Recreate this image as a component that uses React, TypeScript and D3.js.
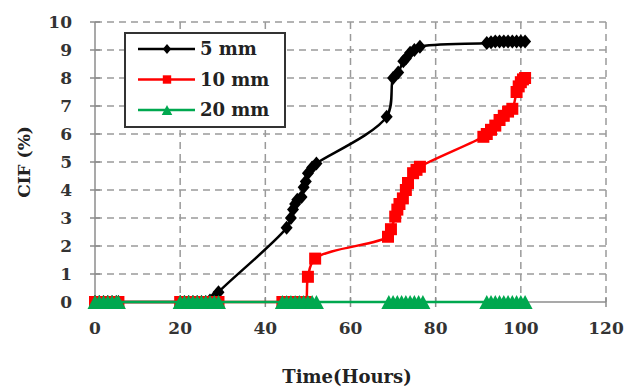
import React from "react";
import * as d3 from "d3";

// ---------- data ----------
const xTicks = [0, 20, 40, 60, 80, 100, 120];
const yTicks = [0, 1, 2, 3, 4, 5, 6, 7, 8, 9, 10];

const hours5 = [
  0, 1, 2, 3, 4, 5, 5.5,
  20, 21, 22, 23, 24, 25, 26, 27, 28, 29,
  45, 46, 46.5, 47, 47.5, 48.5, 49, 49.5, 50, 51, 52,
  68.5, 70, 71.2, 72.4, 73, 74, 75, 76.3,
  92, 93, 94, 95, 96, 97, 98, 99, 100, 101,
];
const cif5 = [
  0, 0, 0, 0, 0, 0, 0,
  0, 0, 0, 0, 0, 0, 0, 0.05, 0.15, 0.35,
  2.65, 3.0, 3.3, 3.5, 3.65, 3.75, 4.1, 4.3, 4.6, 4.8, 4.95,
  6.62, 8.0, 8.2, 8.6, 8.7, 8.9, 9.0, 9.12,
  9.25, 9.28, 9.3, 9.3, 9.3, 9.3, 9.3, 9.3, 9.3, 9.3,
];

const hours10 = [
  0, 1, 2, 3, 4, 5, 5.5,
  20, 21, 22, 23, 24, 25, 26, 27, 28, 29,
  44, 45, 46, 47, 48, 49, 49.5,
  50, 51.7,
  68.8, 69.5, 70.5, 71, 71.5, 72.3, 73, 73.5, 74.7, 75.5, 76.3,
  91.2, 92, 93, 94, 95, 96, 97, 98, 99, 99.5, 100, 100.5, 101,
];
const cif10 = [
  0, 0, 0, 0, 0, 0, 0,
  0, 0, 0, 0, 0, 0, 0, 0, 0, 0,
  0, 0, 0, 0, 0, 0, 0,
  0.9, 1.55,
  2.33, 2.6, 3.05, 3.3, 3.5, 3.7, 4.0, 4.25, 4.6, 4.72, 4.83,
  5.9, 6.0, 6.15, 6.3, 6.5, 6.65, 6.8, 6.9, 7.5, 7.7, 7.85, 7.95, 8.0,
];

const hours20 = [
  0, 1, 2, 3, 4, 5, 5.5,
  20, 21, 22, 23, 24, 25, 26, 27, 28, 29,
  44, 45, 46, 47, 48, 49, 50, 51, 52,
  69, 70, 71, 72, 73, 74, 75, 76, 77,
  92, 93, 94, 95, 96, 97, 98, 99, 100, 101,
];
const cif20 = [
  0, 0, 0, 0, 0, 0, 0,
  0, 0, 0, 0, 0, 0, 0, 0, 0, 0,
  0, 0, 0, 0, 0, 0, 0, 0, 0,
  0, 0, 0, 0, 0, 0, 0, 0, 0,
  0, 0, 0, 0, 0, 0, 0, 0, 0, 0,
];

const seriesNames = ["5 mm", "10 mm", "20 mm"];
const seriesColors = ["#000000", "#ff0000", "#00a84f"];

type Pt = { h: number; v: number };
const zip = (h: number[], v: number[]): Pt[] => h.map((x, i) => ({ h: x, v: v[i] }));

const series = [
  { name: seriesNames[0], color: seriesColors[0], pts: zip(hours5, cif5), marker: "diamond" },
  { name: seriesNames[1], color: seriesColors[1], pts: zip(hours10, cif10), marker: "square" },
  { name: seriesNames[2], color: seriesColors[2], pts: zip(hours20, cif20), marker: "triangle" },
];

// ---------- layout ----------
const W = 627;
const H = 387;
const L = 95, R = 606, T = 22, B = 302;
const FONT = "'DejaVu Serif', 'Liberation Serif', serif";

const x = d3.scaleLinear().domain([0, 120]).range([L, R]);
const y = d3.scaleLinear().domain([0, 10]).range([B, T]);

const markerPath = (m: string, k = 1) => {
  const p = d3.path();
  if (m === "diamond") {
    p.moveTo(0, -7 * k); p.lineTo(6 * k, 0); p.lineTo(0, 7 * k); p.lineTo(-6 * k, 0); p.closePath();
  } else if (m === "square") {
    p.rect(-6 * k, -6 * k, 12 * k, 12 * k);
  } else {
    p.moveTo(0, -7 * k); p.lineTo(7.5 * k, 7 * k); p.lineTo(-7.5 * k, 7 * k); p.closePath();
  }
  return p.toString();
};

const line = d3
  .line<Pt>()
  .x((d) => x(d.h))
  .y((d) => y(d.v))
  .curve(d3.curveCatmullRom.alpha(0.5));

export default function App() {
  const gridColor = "#9a9a9a";
  return (
    <svg
      width={W}
      height={H}
      style={{ position: "absolute", left: 0, top: 0, background: "#fff" }}
    >
      <rect x={0} y={0} width={W} height={H} fill="#fff" />
      {/* grid */}
      {yTicks.filter((t) => t > 0).map((t) => (
        <line key={"gy" + t} x1={L} x2={R} y1={y(t)} y2={y(t)} stroke={gridColor} strokeWidth={1.5} strokeDasharray="7,5" />
      ))}
      {xTicks.filter((t) => t > 0).map((t) => (
        <line key={"gx" + t} x1={x(t)} x2={x(t)} y1={T} y2={B} stroke={gridColor} strokeWidth={1.5} strokeDasharray="7,5" />
      ))}
      {/* axes */}
      <line x1={L} x2={L} y1={T} y2={B} stroke="#8c8c8c" strokeWidth={1.5} />
      <line x1={L} x2={R} y1={B} y2={B} stroke="#8c8c8c" strokeWidth={1.5} />
      {yTicks.map((t) => (
        <line key={"ty" + t} x1={L - 5} x2={L + 5} y1={y(t)} y2={y(t)} stroke="#8c8c8c" strokeWidth={1.5} />
      ))}
      {xTicks.map((t) => (
        <line key={"tx" + t} x1={x(t)} x2={x(t)} y1={B - 5} y2={B + 5} stroke="#8c8c8c" strokeWidth={1.5} />
      ))}
      {/* tick labels */}
      {yTicks.map((t) => (
        <text key={"ly" + t} x={L - 23} y={y(t)} dy="0.36em" textAnchor="end" fontFamily={FONT} fontWeight="bold" fontSize={17} fill="#333">
          {t}
        </text>
      ))}
      {xTicks.map((t) => (
        <text key={"lx" + t} x={x(t)} y={334} textAnchor="middle" fontFamily={FONT} fontWeight="bold" fontSize={17} fill="#333">
          {t}
        </text>
      ))}
      {/* axis titles */}
      <text x={347} y={383} textAnchor="middle" fontFamily={FONT} fontWeight="bold" fontSize={18} fill="#222">
        Time(Hours)
      </text>
      <text transform={`translate(30,162) rotate(-90)`} textAnchor="middle" fontFamily={FONT} fontWeight="bold" fontSize={17} fill="#222">
        CIF (%)
      </text>
      {/* series */}
      {series.map((s) => (
        <g key={s.name}>
          <path d={line(s.pts)!} fill="none" stroke={s.color} strokeWidth={2.5} />
          {s.pts.map((p, i) => (
            <path key={i} d={markerPath(s.marker)} transform={`translate(${x(p.h)},${y(p.v)})`} fill={s.color} />
          ))}
        </g>
      ))}
      {/* legend */}
      <rect x={125} y={33} width={160} height={94} fill="#fff" stroke="#333" strokeWidth={2} />
      {series.map((s, i) => {
        const ly = 49 + i * 30.5;
        return (
          <g key={"lg" + s.name}>
            <line x1={138} x2={195} y1={ly} y2={ly} stroke={s.color} strokeWidth={2.5} />
            <path d={markerPath(s.marker, 0.7)} transform={`translate(167,${ly})`} fill={s.color} />
            <text x={200} y={ly} dy="0.36em" fontFamily={FONT} fontWeight="bold" fontSize={18} fill="#222">
              {s.name}
            </text>
          </g>
        );
      })}
    </svg>
  );
}
